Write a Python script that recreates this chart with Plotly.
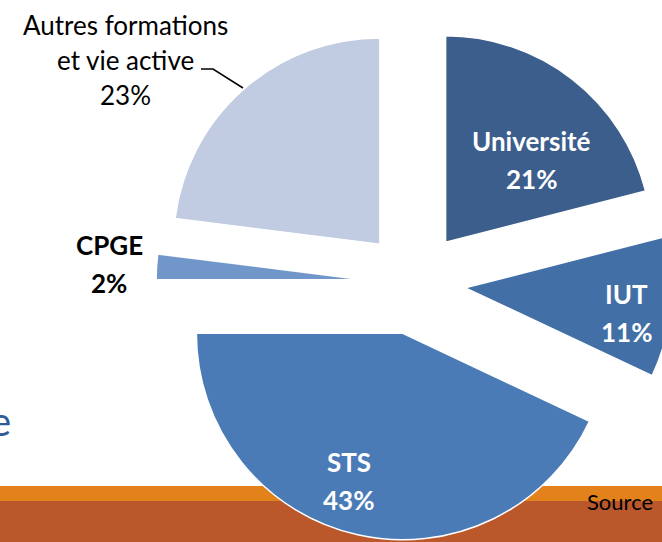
import plotly.graph_objects as go

# Figure is a bit wider than the 662 px window so the pulled pie can run off the right edge
W, H = 680, 542

# Data
labels = ["Université", "IUT", "STS", "CPGE", "Autres formations<br>et vie active"]
values = [21, 11, 43, 2, 23]
colors = ["#3b5e8c", "#426fa6", "#4a7bb7", "#7196c9", "#c1cce2"]


def px(x):
    return x / W


def py(y):
    return 1 - y / H


# pie centre and (radius * (1 + pull)) in pixels
cx, cy, reach = 414, 283, 258

fig = go.Figure(go.Pie(
    labels=labels,
    values=values,
    sort=False,
    direction="clockwise",
    rotation=0,
    pull=[0.25] * len(values),
    marker=dict(colors=colors, line=dict(color="white", width=1.5)),
    textinfo="none",
    domain=dict(x=[px(cx - reach), px(cx + reach)], y=[py(cy + reach), py(cy - reach)]),
    showlegend=False,
    hoverinfo="label+percent",
))

# Bottom slide bands
fig.add_shape(type="rect", xref="paper", yref="paper", x0=0, x1=1,
              y0=py(501), y1=py(486), fillcolor="#e3821a", line_width=0, layer="below")
fig.add_shape(type="rect", xref="paper", yref="paper", x0=0, x1=1,
              y0=0, y1=py(501), fillcolor="#ba582c", line_width=0, layer="below")

# Leader line for the "Autres" label
fig.add_shape(type="path", xref="paper", yref="paper",
              path=f"M {px(201)},{py(69)} L {px(213)},{py(69)} L {px(243)},{py(88)}",
              line=dict(color="black", width=1.5))


def label(lines, x, y0, step, color, bold):
    for i, t in enumerate(lines):
        if bold:
            t = f"<b>{t}</b>"
        fig.add_annotation(x=px(x), y=py(y0 + step * i), xref="paper", yref="paper",
                           text=t, showarrow=False, xanchor="center", yanchor="middle",
                           font=dict(family="Lato", size=26, color=color))


# Slice labels (inside ones white bold, outside ones black)
label([labels[0], f"{values[0]}%"], 531, 141, 38, "white", True)
label([labels[1], f"{values[1]}%"], 626, 294, 38, "white", True)
label([labels[2], f"{values[2]}%"], 349, 462, 38, "white", True)
label([labels[3], f"{values[3]}%"], 109, 245, 38, "black", True)
label(labels[4].split("<br>") + [f"{values[4]}%"], 125, 25, 35, "black", False)

fig.add_annotation(x=px(585), y=py(501), xref="paper", yref="paper", text="Source",
                   showarrow=False, xanchor="left", yanchor="middle",
                   font=dict(family="Lato", size=22, color="black"))

# Cut-off slide title letter at left
fig.add_annotation(x=px(13), y=py(421), xref="paper", yref="paper", text="e",
                   showarrow=False, xanchor="right", yanchor="middle",
                   font=dict(family="Lato", size=40, color="#2f5c99"))

fig.update_layout(
    width=W, height=H,
    margin=dict(l=0, r=0, t=0, b=0),
    paper_bgcolor="white",
    plot_bgcolor="white",
)

# drop the browser's default body margin and hide the overflow
fig.write_html(
    "out.html",
    config={"displayModeBar": False},
    post_script="document.body.style.margin='0';document.body.style.overflow='hidden';",
)
